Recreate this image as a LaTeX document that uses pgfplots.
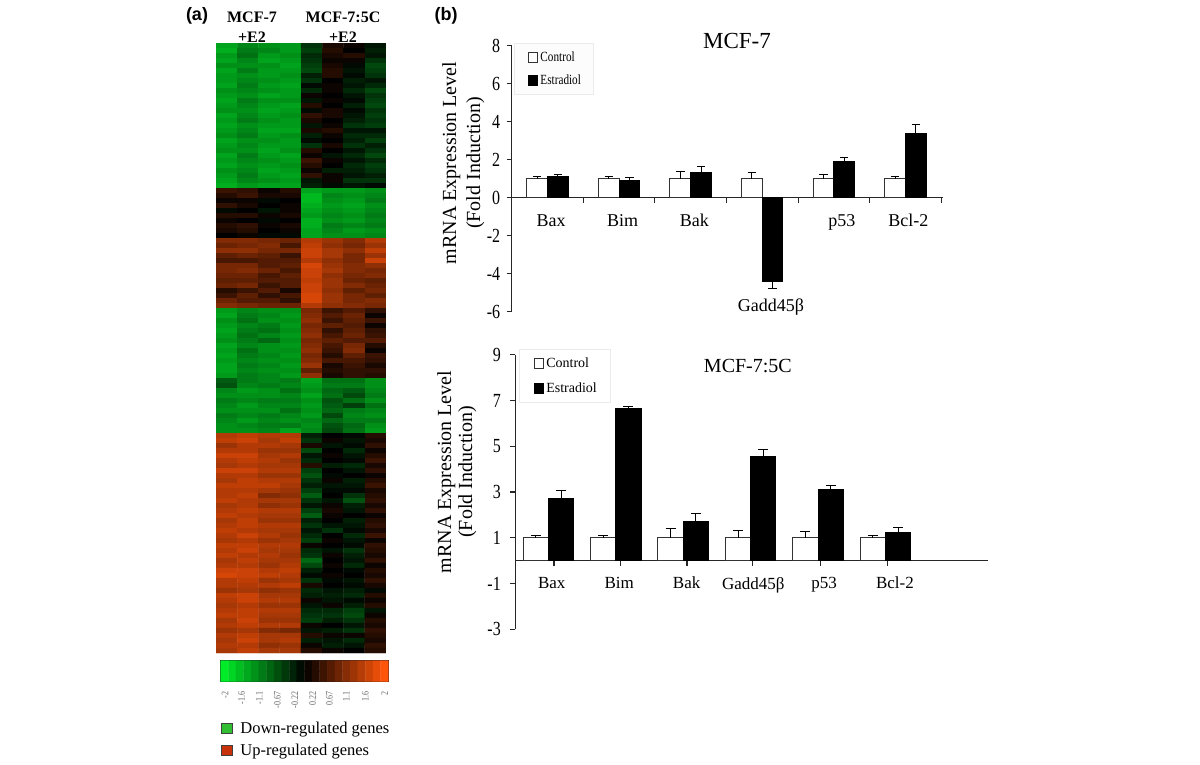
\documentclass[border=0pt]{standalone}
\usepackage{fontspec}
\setmainfont{Liberation Serif}
\newfontfamily\narrow[FakeStretch=0.8]{Liberation Serif}
\newfontfamily\headsans{Liberation Sans}
\usepackage{pgfplots}
\pgfplotsset{compat=1.18}
\newcommand\fs[1]{\fontsize{#1}{#1}\selectfont}
\definecolor{downsq}{RGB}{50,190,50}
\definecolor{upsq}{RGB}{200,50,10}

\pgfplotsset{
  colormap={key}{rgb255(0)=(0,235,40); rgb255(50)=(0,0,0); rgb255(100)=(255,85,10)},
  colormap={heat}{rgb255(0)=(0,205,35); rgb255(50)=(0,0,0); rgb255(100)=(238,78,8)},
  barpanel/.style={
    scale only axis,
    ybar,
    axis y line=left,
    axis x line=middle,
    axis line style={-,line width=1.1pt,black!85},
    tick style={black!85,line width=1.1pt},
    tick align=outside,
    major tick length=5pt,
    hide obscured x ticks=false,
    hide obscured y ticks=false,
    yticklabel style={font=\narrow\fs{20}},
    legend cell align=left,
    clip=false,
    error bars/y dir=both,
    error bars/y explicit,
    error bars/error bar style={line width=1pt,black},
  },
  ctrl/.style={fill=white,draw=black!80,line width=1pt,
    legend image code/.code={\node[inner sep=0pt,anchor=east] at (4pt,0pt) {\rule{4pt}{0pt}}; \draw[##1] (4pt,-5pt) rectangle (13pt,5pt);}},
  estr/.style={fill=black,draw=black,line width=1pt,
    legend image code/.code={\node[inner sep=0pt,anchor=east] at (4pt,0pt) {\rule{4pt}{0pt}}; \draw[##1] (4pt,-5pt) rectangle (13pt,5pt);}},
}

\begin{document}
\begin{tikzpicture}
\useasboundingbox (0pt,0pt) rectangle (1200pt,764pt);

% heat map, read row by row, 5 px a row, 8 arrays
\begin{axis}[
  at={(216pt,111pt)}, anchor=south west,
  scale only axis, width=170pt, height=610pt,
  hide axis,
  xmin=-0.5, xmax=7.5, ymin=-0.5, ymax=121.5,
  y dir=reverse,
  colormap name=heat,
  point meta min=-2, point meta max=2,
]
\addplot[matrix plot*, shader=faceted, faceted color=mapped color, line width=0.3pt,
  mesh/cols=8, point meta=explicit] table[
  row sep=\\, header=false, meta index=0,
  x expr={mod(\coordindex,8)}, y expr={floor((\coordindex+0.5)/8)}
] {
-1.6\\-1.3\\-1.4\\-1.5\\-0.5\\0.2\\0.1\\-0.2\\
-1.7\\-1.2\\-1.3\\-1.5\\-0.6\\0.3\\0.0\\-0.3\\
-1.5\\-1.1\\-1.5\\-1.4\\-0.4\\0.2\\0.3\\-0.2\\
-1.6\\-1.3\\-1.6\\-1.5\\-0.5\\0.1\\0.1\\-0.5\\
-1.4\\-1.4\\-1.4\\-1.6\\-0.6\\0.2\\-0.1\\-0.7\\
-1.6\\-1.2\\-1.5\\-1.5\\-0.7\\0.3\\-0.2\\-0.6\\
-1.5\\-1.4\\-1.5\\-1.4\\-0.3\\0.3\\-0.1\\-0.5\\
-1.5\\-1.3\\-1.4\\-1.5\\-0.5\\0.0\\-0.3\\-0.2\\
-1.6\\-1.2\\-1.5\\-1.6\\-0.1\\0.1\\-0.2\\-0.4\\
-1.4\\-1.3\\-1.4\\-1.5\\-0.4\\0.1\\-0.4\\-0.7\\
-1.5\\-1.4\\-1.6\\-1.5\\0.1\\0.0\\-0.2\\-0.5\\
-1.6\\-1.2\\-1.4\\-1.4\\-0.2\\0.1\\-0.1\\-0.6\\
-1.5\\-1.3\\-1.5\\-1.6\\0.3\\0.0\\-0.3\\-0.7\\
-1.4\\-1.4\\-1.6\\-1.5\\-0.1\\0.2\\-0.1\\-0.5\\
-1.6\\-1.3\\-1.5\\-1.4\\0.4\\0.2\\-0.2\\-0.6\\
-1.5\\-1.2\\-1.4\\-1.5\\0.2\\0.0\\-0.3\\-0.5\\
-1.6\\-1.4\\-1.5\\-1.5\\-0.2\\0.1\\-0.5\\-0.6\\
-1.5\\-1.3\\-1.6\\-1.6\\0.2\\0.3\\-0.2\\-0.2\\
-1.4\\-1.2\\-1.5\\-1.4\\-0.3\\0.1\\-0.4\\-0.4\\
-1.6\\-1.4\\-1.4\\-1.5\\-0.1\\0.0\\-0.3\\-0.6\\
-1.5\\-1.3\\-1.5\\-1.5\\-0.5\\0.2\\-0.5\\-0.3\\
-1.4\\-1.4\\-1.6\\-1.4\\0.3\\0.0\\-0.2\\-0.5\\
-1.6\\-1.2\\-1.5\\-1.6\\0.1\\-0.2\\-0.4\\-0.7\\
-1.5\\-1.3\\-1.4\\-1.5\\0.5\\0.1\\-0.2\\-0.4\\
-1.6\\-1.4\\-1.5\\-1.4\\0.3\\0.0\\-0.4\\-0.6\\
-1.4\\-1.3\\-1.6\\-1.5\\0.1\\-0.3\\-0.3\\-0.5\\
-1.5\\-1.2\\-1.5\\-1.6\\0.4\\0.1\\-0.2\\-0.3\\
-1.6\\-1.3\\-1.4\\-1.5\\-0.2\\0.1\\-0.5\\-0.5\\
-1.7\\-1.5\\-1.6\\-1.6\\-0.3\\-0.1\\-0.2\\-0.1\\
0.5\\0.4\\0.1\\0.3\\-1.6\\-1.5\\-1.5\\-1.4\\
0.3\\0.5\\0.2\\0.2\\-1.8\\-1.3\\-1.4\\-1.3\\
0.1\\0.1\\-0.1\\0.0\\-1.8\\-1.4\\-1.5\\-1.2\\
0.4\\0.2\\0.0\\0.1\\-1.7\\-1.5\\-1.6\\-1.4\\
-0.1\\0.0\\-0.2\\0.1\\-1.6\\-1.4\\-1.5\\-1.3\\
0.3\\0.3\\0.1\\0.2\\-1.5\\-1.3\\-1.4\\-1.2\\
0.1\\0.0\\-0.1\\0.0\\-1.7\\-1.4\\-1.5\\-1.3\\
0.3\\0.4\\0.1\\0.2\\-1.7\\-1.2\\-1.3\\-1.2\\
0.2\\0.3\\0.0\\0.1\\-1.6\\-1.3\\-1.5\\-1.4\\
0.0\\0.1\\-0.1\\-0.1\\-1.6\\-1.4\\-1.4\\-1.3\\
1.1\\1.1\\1.0\\0.9\\1.5\\1.3\\1.1\\1.5\\
0.9\\1.0\\1.1\\0.6\\1.6\\1.2\\1.0\\1.3\\
1.2\\1.2\\1.0\\1.0\\1.7\\1.4\\1.2\\1.6\\
0.8\\0.9\\0.8\\0.5\\1.7\\1.4\\1.0\\1.3\\
0.6\\0.6\\0.7\\0.7\\1.5\\1.2\\1.0\\1.7\\
1.0\\1.0\\0.7\\0.8\\1.8\\1.3\\1.1\\1.2\\
1.0\\1.1\\0.9\\0.6\\1.7\\1.4\\1.1\\1.0\\
0.9\\0.9\\0.6\\0.8\\1.7\\1.2\\1.0\\1.1\\
0.8\\0.8\\0.7\\0.7\\1.6\\1.3\\0.9\\0.8\\
0.9\\1.0\\0.5\\0.7\\1.7\\1.3\\1.1\\0.9\\
0.3\\0.5\\0.7\\0.2\\1.7\\1.2\\0.8\\1.0\\
0.5\\0.8\\0.4\\0.6\\1.8\\1.3\\1.0\\0.8\\
0.9\\0.7\\0.7\\0.4\\1.8\\1.3\\1.0\\1.1\\
1.1\\1.0\\0.9\\0.9\\1.5\\1.2\\1.1\\1.0\\
-1.5\\-1.3\\-1.4\\-1.4\\1.0\\0.5\\0.7\\0.4\\
-1.6\\-1.2\\-1.3\\-1.5\\1.1\\0.7\\0.9\\0.1\\
-1.4\\-1.1\\-1.4\\-1.4\\1.2\\0.5\\0.8\\0.5\\
-1.5\\-1.3\\-1.2\\-1.5\\1.0\\0.8\\0.7\\0.1\\
-1.6\\-1.2\\-1.1\\-1.4\\1.1\\0.4\\0.8\\0.4\\
-1.5\\-1.1\\-1.3\\-1.5\\1.2\\0.6\\0.9\\0.5\\
-1.4\\-1.2\\-1.0\\-1.4\\1.0\\0.8\\0.7\\0.7\\
-1.6\\-1.3\\-1.4\\-1.5\\1.1\\0.6\\1.0\\0.3\\
-1.5\\-1.1\\-1.4\\-1.4\\1.2\\0.5\\1.1\\0.1\\
-1.6\\-1.2\\-1.3\\-1.5\\1.0\\0.3\\0.8\\0.5\\
-1.5\\-1.3\\-1.4\\-1.4\\1.1\\0.6\\0.6\\0.4\\
-1.6\\-1.2\\-1.3\\-1.5\\1.3\\0.2\\0.5\\0.2\\
-1.6\\-1.3\\-1.4\\-1.4\\0.8\\0.3\\0.4\\0.4\\
-1.5\\-1.2\\-1.3\\-1.5\\1.2\\0.2\\0.4\\0.3\\
-0.9\\-1.2\\-1.3\\-1.2\\-1.6\\-1.1\\-1.1\\-1.4\\
-0.8\\-1.3\\-1.2\\-1.3\\-1.5\\-1.2\\-1.2\\-1.4\\
-1.3\\-1.5\\-1.4\\-1.1\\-1.4\\-1.0\\-0.9\\-1.3\\
-1.4\\-1.4\\-1.4\\-1.3\\-1.6\\-1.1\\-0.7\\-1.2\\
-1.2\\-1.3\\-1.2\\-1.2\\-1.4\\-0.8\\-1.1\\-1.4\\
-1.3\\-1.5\\-1.3\\-1.3\\-1.5\\-0.9\\-0.6\\-1.1\\
-1.4\\-1.4\\-1.4\\-1.1\\-1.4\\-1.0\\-1.2\\-1.3\\
-1.2\\-1.3\\-1.2\\-1.3\\-1.5\\-0.7\\-1.3\\-1.4\\
-1.3\\-1.5\\-1.3\\-1.4\\-1.3\\-1.0\\-1.2\\-1.2\\
-1.4\\-1.3\\-1.2\\-1.2\\-1.4\\-0.8\\-1.0\\-1.4\\
-1.4\\-1.4\\-1.3\\-1.6\\-1.3\\-0.7\\-1.1\\-1.5\\
1.5\\1.6\\1.5\\1.5\\-0.3\\0.0\\-0.1\\0.3\\
1.6\\1.7\\1.4\\1.6\\-0.5\\0.1\\-0.2\\0.2\\
1.3\\1.5\\1.5\\1.4\\0.2\\-0.2\\-0.1\\0.4\\
1.5\\1.5\\1.3\\1.3\\-0.7\\0.0\\-0.4\\0.1\\
1.7\\1.7\\1.4\\1.5\\-0.2\\0.1\\-0.2\\0.3\\
1.5\\1.6\\1.5\\1.3\\-0.4\\0.0\\-0.1\\0.5\\
1.4\\1.5\\1.4\\1.4\\0.3\\-0.3\\-0.4\\0.2\\
1.7\\1.7\\1.5\\1.5\\-0.6\\0.0\\-0.2\\0.4\\
1.5\\1.5\\1.3\\1.3\\-0.8\\-0.1\\0.0\\0.1\\
1.4\\1.6\\1.5\\1.5\\-0.5\\0.1\\-0.3\\0.3\\
1.6\\1.6\\1.6\\1.4\\-0.3\\-0.2\\-0.2\\0.5\\
1.5\\1.5\\1.4\\1.3\\-0.6\\-0.1\\-0.1\\0.2\\
1.5\\1.6\\1.1\\1.2\\-0.9\\0.0\\-0.5\\0.3\\
1.6\\1.5\\1.4\\1.4\\-0.5\\-0.2\\-0.8\\0.4\\
1.4\\1.5\\1.2\\1.3\\-0.2\\0.1\\-0.3\\0.2\\
1.5\\1.6\\1.5\\1.5\\-0.6\\0.2\\-0.2\\0.4\\
1.6\\1.5\\1.4\\1.4\\-0.9\\0.1\\0.0\\0.1\\
1.4\\1.6\\1.3\\1.3\\-0.3\\0.0\\-0.3\\0.3\\
1.5\\1.6\\1.5\\1.5\\-0.5\\-0.2\\-0.2\\0.4\\
1.6\\1.5\\1.4\\1.4\\-0.2\\-0.5\\-0.1\\0.2\\
1.5\\1.7\\1.5\\1.3\\-0.4\\0.0\\-0.4\\0.5\\
1.4\\1.5\\1.3\\1.4\\-0.6\\0.1\\-0.2\\0.1\\
1.6\\1.6\\1.5\\1.5\\0.1\\0.0\\-0.1\\0.4\\
1.5\\1.7\\1.4\\1.4\\-0.4\\-0.2\\-0.5\\0.3\\
1.6\\1.5\\1.5\\1.3\\-0.5\\0.1\\-0.3\\0.2\\
1.4\\1.6\\1.4\\1.4\\-1.0\\0.0\\-0.2\\0.4\\
1.5\\1.5\\1.3\\1.5\\-0.7\\0.1\\-0.4\\0.1\\
1.7\\1.7\\1.5\\1.6\\-0.3\\0.0\\-0.1\\0.3\\
1.8\\1.7\\1.6\\1.5\\-0.1\\0.1\\0.0\\0.2\\
1.5\\1.6\\1.3\\1.4\\-0.5\\-0.1\\-0.2\\0.4\\
1.5\\1.5\\1.5\\1.6\\0.2\\0.0\\-0.1\\0.2\\
1.3\\1.4\\1.2\\1.3\\-0.4\\-0.2\\-0.3\\-0.1\\
1.6\\1.7\\1.4\\1.4\\-0.3\\-0.3\\-0.4\\0.3\\
1.5\\1.7\\1.5\\1.5\\0.1\\-0.2\\-0.1\\0.1\\
1.4\\1.5\\1.3\\1.3\\-0.2\\0.1\\-0.3\\0.3\\
1.5\\1.6\\1.5\\1.5\\-0.4\\-0.4\\-0.6\\-0.2\\
1.6\\1.6\\1.4\\1.4\\-0.5\\-0.5\\-0.7\\0.1\\
1.4\\1.7\\1.3\\1.3\\-0.6\\-0.3\\-0.5\\0.3\\
1.5\\1.6\\1.5\\1.5\\0.1\\0.0\\-0.2\\0.2\\
1.3\\1.4\\1.1\\1.0\\-0.2\\-0.3\\-0.5\\0.4\\
1.5\\1.6\\1.4\\1.4\\0.3\\0.1\\0.1\\0.3\\
1.4\\1.7\\1.4\\1.5\\-0.3\\-0.2\\-0.4\\0.2\\
1.5\\1.5\\1.2\\1.3\\0.1\\-0.3\\-0.2\\0.4\\
1.4\\1.6\\1.4\\1.4\\0.3\\0.1\\0.0\\0.3\\
};
\end{axis}

% colour key
\begin{axis}[
  at={(220.7pt,82.3pt)}, anchor=south west,
  scale only axis, width=167.6pt, height=21pt,
  xmin=-0.5, xmax=21.5, ymin=-0.5, ymax=1.5,
  axis line style={line width=1pt,black!85},
  ytick=\empty,
  xtick={0.06,2.26,4.57,6.93,9.25,11.58,13.75,16,18.5,21},
  xticklabels={-2,-1.6,-1.1,-0.67,-0.22,0.22,0.67,1.1,1.6,2},
  xticklabel style={rotate=90,anchor=east,font=\narrow\fs{10},text=black!60,inner sep=0pt},
  xticklabel shift=10pt,
  major tick length=0pt,
  colormap name=key,
  point meta min=-2, point meta max=2,
  clip=false,
  legend image code/.code={\node[inner sep=0pt,anchor=west] at (11pt,0pt) {\rule{7.5pt}{0pt}}; \draw[#1] (0pt,-5pt) rectangle (11pt,5pt);},
  legend style={
    at={(axis description cs:0,-1.92)}, anchor=north west,
    draw=none, fill=none, font=\fs{16.5}, row sep=9pt,
    inner xsep=0pt, inner ysep=0pt,
    nodes={inner sep=0pt},
  },
  legend cell align=left,
]
\addplot[matrix plot*, shader=faceted, faceted color=mapped color, line width=0.3pt,
  mesh/cols=22, point meta=explicit, forget plot] table[
  row sep=\\, header=false, meta index=0,
  x expr={mod(\coordindex,22)}, y expr={floor((\coordindex+0.5)/22)}
] {
-2\\-1.81\\-1.62\\-1.43\\-1.24\\-1.05\\-0.86\\-0.67\\-0.48\\-0.29\\-0.1\\0.1\\0.29\\0.48\\0.67\\0.86\\1.05\\1.24\\1.43\\1.62\\1.81\\2\\
-2\\-1.81\\-1.62\\-1.43\\-1.24\\-1.05\\-0.86\\-0.67\\-0.48\\-0.29\\-0.1\\0.1\\0.29\\0.48\\0.67\\0.86\\1.05\\1.24\\1.43\\1.62\\1.81\\2\\
};
\addlegendimage{fill=downsq,draw=black!75,line width=1pt}
\addlegendentry{Down-regulated genes}
\addlegendimage{fill=upsq,draw=black!75,line width=1pt}
\addlegendentry{Up-regulated genes}
\end{axis}

% MCF-7 bars
\begin{axis}[
  barpanel,
  at={(511.7pt,452.3pt)}, anchor=south west,
  width=431pt, height=266pt,
  bar width=20.7pt,
  xmin=-0.5, xmax=5.52, ymin=-6, ymax=8,
  ytick={-6,-4,-2,0,2,4,6,8},
  yticklabels={-6,-4,-2,0,2,4,6,8},
  yticklabel style={xshift=-3pt},
  xtick={0.5,1.5,2.5,3.5,4.5,5.5},
  xticklabels={},
  extra x ticks={0.05,1.05,2.05,4.11,5.04},
  extra x tick labels={Bax,Bim,Bak,p53,Bcl-2},
  extra x tick style={major tick length=0pt,xticklabel style={font=\fs{18},yshift=-13pt}},
  error bars/error mark options={rotate=90,mark size=4.2pt,line width=1pt,black},
  title={MCF-7},
  title style={at={(axis description cs:0.5227,0.995)},anchor=center,font=\fs{23}},
  ylabel={mRNA Expression Level\\[4pt](Fold Induction)},
  ylabel style={at={(axis description cs:-0.112,0.559)},anchor=center,align=center,font=\fs{20}},
  legend style={at={(axis description cs:0.006,1.01)},anchor=north west,
    draw=black!8,fill=black!1,font=\narrow\fs{14},inner xsep=10pt,inner ysep=6.5pt,row sep=8pt,
    nodes={inner xsep=2pt,inner ysep=2pt}},
]
\addplot[ctrl,bar shift=-10.35pt] coordinates {
(0,1) += (0,0.12) (1,1) += (0,0.12) (2,1) += (0,0.39) (3,1) += (0,0.3) (4,1) += (0,0.22) (5,1) += (0,0.1)};
\addplot[estr,bar shift=10.35pt] coordinates {
(0,1.13) += (0,0.07) (1,0.88) += (0,0.17) (2,1.33) += (0,0.32) (3,-4.42) -= (0,0.36) (4,1.92) += (0,0.18) (5,3.38) += (0,0.49)};
\legend{Control,Estradiol}
\node[font=\fs{18}] at (axis cs:3.12,-5.75) {Gadd45β};
\end{axis}

% MCF-7:5C bars
\begin{axis}[
  barpanel,
  at={(515.3pt,134.7pt)}, anchor=south west,
  width=472.7pt, height=274.6pt,
  bar width=25.3pt,
  xmin=-0.491, xmax=6.52, ymin=-3, ymax=9,
  ytick={-3,-1,1,3,5,7,9},
  yticklabels={-3,-1,1,3,5,7,9},
  yticklabel style={xshift=-6pt},
  xtick={0.083,1.064,2.055,3.03,4.04,5.035},
  xticklabels={},
  extra x ticks={0.05,1.05,2.05,3.04,4.09,5.14},
  extra x tick labels={Bax,Bim,Bak,Gadd45β,p53,Bcl-2},
  extra x tick style={major tick length=0pt,xticklabel style={font=\fs{17},yshift=-13pt}},
  error bars/error mark options={rotate=90,mark size=5pt,line width=1pt,black},
  title={MCF-7:5C},
  title style={at={(axis description cs:0.492,0.937)},anchor=center,font=\fs{20}},
  ylabel={mRNA Expression Level\\[1pt](Fold Induction)},
  ylabel style={at={(axis description cs:-0.124,0.573)},anchor=center,align=center,font=\fs{20}},
  legend style={at={(axis description cs:0.008,1.021)},anchor=north west,
    draw=black!8,fill=white,font=\fs{14},inner xsep=11pt,inner ysep=6.5pt,row sep=10pt,
    nodes={inner xsep=2pt,inner ysep=2pt}},
]
\addplot[ctrl,bar shift=-12.65pt] coordinates {
(0,1) += (0,0.11) (1,1) += (0,0.11) (2,1) += (0,0.4) (3,1) += (0,0.33) (4,1) += (0,0.27) (5,1) += (0,0.11)};
\addplot[estr,bar shift=12.65pt] coordinates {
(0,2.73) += (0,0.34) (1,6.64) += (0,0.09) (2,1.72) += (0,0.34) (3,4.53) += (0,0.32) (4,3.12) += (0,0.16) (5,1.23) += (0,0.22)};
\legend{Control,Estradiol}
\end{axis}

\node[font=\headsans\bfseries\fs{18}] at (197pt,748pt) {(a)};
\node[font=\headsans\bfseries\fs{18}] at (446pt,748pt) {(b)};
\node[font=\bfseries\fs{16},align=center,inner sep=0pt] at (252pt,737pt) {MCF-7\\[4pt]+E2};
\node[font=\bfseries\fs{16},align=center,inner sep=0pt] at (343pt,737pt) {MCF-7:5C\\[4pt]+E2};
\end{tikzpicture}
\end{document}
